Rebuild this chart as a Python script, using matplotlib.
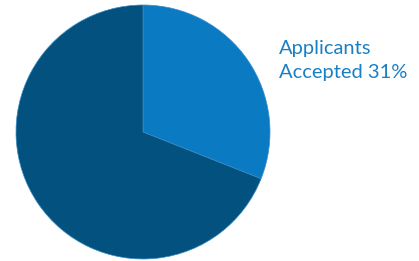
import matplotlib
matplotlib.use("Agg")
import matplotlib.pyplot as plt

labels = ["Applicants Accepted", "Not Accepted"]
values = [31, 69]
colors = ["#0a7bc2", "#03517e"]

fig = plt.figure(figsize=(4.19, 2.61), dpi=100)
fig.patch.set_facecolor("white")
ax = fig.add_axes([16/419, 2/261, 254/419, 254/261])
ax.pie(values, colors=colors, startangle=90, counterclock=False,
       wedgeprops=dict(linewidth=0.5, edgecolor="#3a8cc8"))
ax.set_xlim(-1, 1)
ax.set_ylim(-1, 1)
ax.set_aspect("equal")
ax.axis("off")

fig.text(279/419, 1 - 78/261, "Applicants\nAccepted %d%%" % values[0],
         fontsize=14.5, color="#1a80c4", family="Lato",
         ha="left", va="baseline", linespacing=1.5)

fig.savefig("out.png", dpi=100)
